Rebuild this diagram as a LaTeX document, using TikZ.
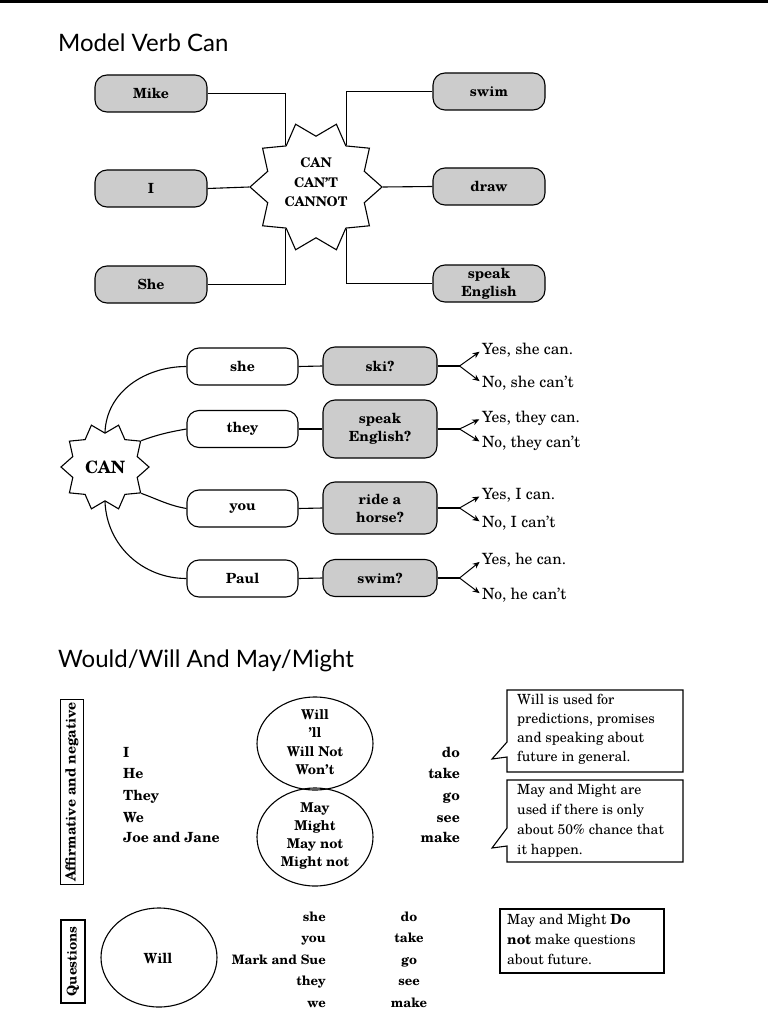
\documentclass[tikz,border=0pt]{standalone}
\usepackage{fontspec}
\setmainfont{TeX Gyre Schola}
\newfontfamily\titlefont{Lato}
\usetikzlibrary{shapes.geometric,arrows.meta,calc}
\tikzset{
  lw/.style={line width=1.1pt},
  boxbase/.style={draw, lw, rounded corners=12pt, align=center, inner sep=2pt,
    font=\bfseries\fontsize{14}{15}\selectfont},
  graybox/.style={boxbase, fill=gray!40, minimum width=112pt, minimum height=37pt},
  whitebox/.style={boxbase, fill=white, minimum width=111pt, minimum height=37pt},
  burst/.style={star, star points=10, star point ratio=1.3, draw, lw, fill=white,
    shape border rotate=18, inner sep=0pt},
  conn/.style={lw},
  arr/.style={line width=1pt, -{Stealth[length=7pt,width=6pt]}, shorten >=3pt},
  ans/.style={anchor=west, inner sep=0pt, font=\fontsize{15.5}{17}\selectfont},
  titletext/.style={anchor=base west, inner sep=0pt, font=\titlefont\fontsize{24}{27}\selectfont},
  bword/.style={inner sep=0pt, font=\bfseries\fontsize{14}{15}\selectfont},
  qword/.style={inner sep=0pt, font=\bfseries\fontsize{13}{14}\selectfont},
  oval/.style={ellipse, draw, lw, inner sep=0pt},
  sidebox/.style={draw, lw, rotate=90, inner sep=0pt, font=\bfseries\fontsize{14}{15}\selectfont},
}
\begin{document}
\begin{tikzpicture}[x=1pt,y=-1pt]
\useasboundingbox (0,0) rectangle (768,1024);
\fill[white] (0,0) rectangle (768,1024);
\fill[black] (0,0) rectangle (768,3.5);

% ---------- Title 1
\node[titletext] (t1) at (58,52) {Model Verb Can};

% ---------- Top diagram
\node[burst, minimum size=132pt] (bigstar) at (316,187) {};
\node[align=center, inner sep=0pt, font=\bfseries\fontsize{13.3}{19.5}\selectfont] (bigtext) at (316,182.5) {CAN\\CAN'T\\CANNOT};

\node[graybox] (mike) at (151,93.5) {Mike};
\node[graybox] (ii) at (151,188.5) {I};
\node[graybox] (she) at (151,284.5) {She};
\node[graybox] (swim) at (489,91.5) {swim};
\node[graybox] (draw) at (489,186.5) {draw};
\node[graybox, font=\bfseries\fontsize{14}{18}\selectfont] (speak) at (489,283.5) {speak\\English};

\draw[conn] (mike.east) -| (bigstar.126);
\draw[conn] (ii.east) -- (bigstar.180);
\draw[conn] (she.east) -| (bigstar.234);
\draw[conn] (swim.west) -| (bigstar.54);
\draw[conn] (draw.west) -- (bigstar.0);
\draw[conn] (speak.west) -| (bigstar.306);

% ---------- Middle diagram
\node[burst, minimum size=88pt] (canstar) at (105,467) {};
\node[inner sep=0pt, font=\bfseries\fontsize{17}{18}\selectfont] (cantext) at (105,467) {CAN};

\node[whitebox] (p1) at (242.5,366.5) {she};
\node[whitebox] (p2) at (242.5,429) {they};
\node[whitebox] (p3) at (242.5,508.5) {you};
\node[whitebox] (p4) at (242.5,578.5) {Paul};

\node[graybox, minimum width=114pt, minimum height=38pt] (v1) at (380,366) {ski?};
\node[graybox, minimum width=114pt, minimum height=58pt, font=\bfseries\fontsize{14}{18}\selectfont] (v2) at (380,429) {speak\\English?};
\node[graybox, minimum width=114pt, minimum height=52pt, font=\bfseries\fontsize{14}{18}\selectfont] (v3) at (380,508) {ride a\\horse?};
\node[graybox, minimum width=114pt, minimum height=37pt] (v4) at (380,578) {swim?};

\draw[conn] (canstar.90) to[out=88, in=180] (p1.west);
\draw[conn] (canstar.36) to[out=20, in=190] (p2.west);
\draw[conn] (canstar.-36) to[out=-20, in=170] (p3.west);
\draw[conn] (canstar.270) to[out=-88, in=180] (p4.west);

\foreach \i in {1,2,3,4} {\draw[conn] (p\i.east) -- (v\i.west);}

\node[ans] (y1) at (482,350) {Yes, she can.};
\node[ans] (n1) at (482,383) {No, she can't};
\node[ans] (y2) at (482,418) {Yes, they can.};
\node[ans] (n2) at (482,443) {No, they can't};
\node[ans] (y3) at (482,495) {Yes, I can.};
\node[ans] (n3) at (482,523) {No, I can't};
\node[ans] (y4) at (482,560) {Yes, he can.};
\node[ans] (n4) at (482,595) {No, he can't};

\foreach \i in {1,2,3,4} {
  \coordinate (f\i) at ($(v\i.east)+(22,0)$);
}
\foreach \i in {1,2,3,4} {
  \draw[conn] (v\i.east) -- (f\i);
  \draw[arr] (f\i) -- (y\i.west);
  \draw[arr] (f\i) -- (n\i.west);
}

% ---------- Title 2
\node[titletext] (t2) at (58,667) {Would/Will And May/Might};

% ---------- Affirmative and negative
\node[sidebox, minimum width=185pt, minimum height=23pt] (aff) at (72,792) {Affirmative and negative};

\foreach \w/\yy/\nm in {I/757/a1, He/778/a2, They/800/a3, We/822/a4, Joe and Jane/842/a5}
  {\node[bword, anchor=base west] (\nm) at (123,\yy) {\w};}
\foreach \w/\yy/\nm in {do/757/b1, take/778/b2, go/800/b3, see/822/b4, make/842/b5}
  {\node[bword, anchor=base east] (\nm) at (460,\yy) {\w};}

\node[oval, minimum width=116pt, minimum height=93pt] (willov) at (315,743.5) {};
\node[align=center, inner sep=0pt, font=\bfseries\fontsize{13.5}{18.5}\selectfont] (willtxt) at (315,742) {Will\\'ll\\Will Not\\Won't};
\node[oval, minimum width=116pt, minimum height=98pt] (mayov) at (315,837) {};
\node[align=center, inner sep=0pt, font=\bfseries\fontsize{13.5}{17.7}\selectfont] (maytxt) at (315,836) {May\\Might\\May not\\Might not};

\draw[lw] (507,690) -| (683,772) -| (507,757) -- (492,759) -- (507,742) -- cycle;
\node[anchor=north west, align=left, inner sep=0pt, font=\fontsize{14}{19}\selectfont] (c1) at (517,694) {Will is used for\\predictions, promises\\and speaking about\\future in general.};
\draw[lw] (507,780) -| (683,862) -| (507,846) -- (492,848) -- (507,828) -- cycle;
\node[anchor=north west, align=left, inner sep=0pt, font=\fontsize{14}{20}\selectfont] (c2) at (517,784) {May and Might are\\used if there is only\\about 50\% chance that\\it happen.};

% ---------- Questions
\node[sidebox, minimum width=83pt, minimum height=24pt, font=\bfseries\fontsize{13.5}{14}\selectfont] (qb) at (73,961.5) {Questions};
\node[oval, minimum width=116pt, minimum height=99pt] (willq) at (159,957.5) {};
\node[inner sep=0pt, font=\bfseries\fontsize{14}{15}\selectfont] (willqt) at (158,958) {Will};

\foreach \w/\yy/\nm in {she/921/q1, you/942/q2, Mark and Sue/964/q3, they/985/q4, we/1007/q5}
  {\node[qword, anchor=base east] (\nm) at (326,\yy) {\w};}
\foreach \w/\yy/\nm in {do/921/r1, take/942/r2, go/964/r3, see/985/r4, make/1007/r5}
  {\node[qword, anchor=base] (\nm) at (409,\yy) {\w};}

\node[draw, lw, minimum width=164pt, minimum height=64pt, inner sep=0pt] (note) at (582,941) {};
\node[anchor=north west, align=left, inner sep=0pt, font=\fontsize{14}{20}\selectfont] (notetxt) at (507,914) {May and Might \textbf{Do}\\\textbf{not} make questions\\about future.};
\end{tikzpicture}
\end{document}
